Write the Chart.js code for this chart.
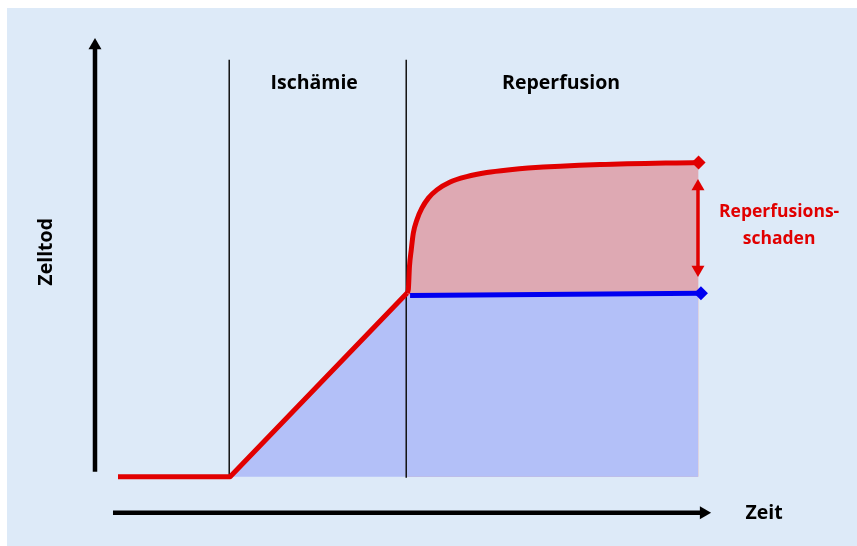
<!DOCTYPE html>
<html>
<head>
<meta charset="utf-8">
<script src="https://cdn.jsdelivr.net/npm/chart.js@4"></script>
<style>
  body { margin: 0; background: #fff; }
  #wrap { position: relative; width: 857px; height: 546px; background: #fff; }
  #panel { position: absolute; left: 7px; top: 8px; right: 0; bottom: 0; background: #ddeaf8; }
  #chart { position: absolute; left: 0; top: 0; }
</style>
</head>
<body>
<div id="wrap">
  <div id="panel"></div>
  <canvas id="chart" width="857" height="546"></canvas>
</div>
<script>
// Zeit in Minuten (Ischämie 0-60), Zelltod in % des Maximalwerts
var baselinePoints = [[-38, 0], [0, 0], [60, 58.2]];
var reperfusionCurve = [[60, 58.2], [60.4, 59.2], [60.8, 66.6], [61.4, 71.8], [62.1, 77.1], [63.3, 81.3],
                        [65, 85], [67.2, 88.2], [70.1, 90.8], [74.6, 93.3], [80.2, 95], [87, 96.3],
                        [94.9, 97.2], [101, 97.7], [125.4, 98.8], [158.8, 99.5]];
var protectedLine = [[61, 57.4], [159.6, 58.1]];
var blueArea = [[0, 0], [60, 58.2], [61, 57.4], [158.6, 58.1]];
var phaseBounds = [0, 60];
var phaseTop = 132;
var damageArrow = [[158.6, 65.6], [158.6, 91.9]];
var yAxisLine = [[-45.8, 1.6], [-45.8, 136.5]];
var xAxisLine = [[-39.7, -11.4], [160.5, -11.4]];

var RED = '#e10000';
var BLUE = '#0000f0';

function pts(arr) {
  return arr.map(function(p) { return { x: p[0], y: p[1] }; });
}

function lastOnly(arr, r) {
  return arr.map(function(p, i) { return i === arr.length - 1 ? r : 0; });
}

var datasets = [];

// Flächen
datasets.push({
  data: pts(reperfusionCurve), order: 10, borderWidth: 0, pointRadius: 0,
  cubicInterpolationMode: 'monotone', fill: 'origin', backgroundColor: '#dea9b3'
});
datasets.push({
  data: pts(blueArea), order: 9, borderWidth: 0, pointRadius: 0,
  tension: 0, fill: 'origin', backgroundColor: '#b3c0f8'
});

// Phasengrenzen
phaseBounds.forEach(function(t) {
  datasets.push({
    data: pts([[t - 0.3, -0.3], [t - 0.3, phaseTop]]), order: 8,
    borderColor: '#111', borderWidth: 1.5, pointRadius: 0, fill: false
  });
});

// Achsenpfeile
datasets.push({
  data: pts(yAxisLine), order: 7, borderColor: '#000', borderWidth: 4.5,
  pointRadius: lastOnly(yAxisLine, 7.5), pointStyle: 'triangle', pointRotation: 0,
  pointBackgroundColor: '#000', pointBorderWidth: 0, fill: false
});
datasets.push({
  data: pts(xAxisLine), order: 7, borderColor: '#000', borderWidth: 4.5,
  pointRadius: lastOnly(xAxisLine, 7.5), pointStyle: 'triangle', pointRotation: 90,
  pointBackgroundColor: '#000', pointBorderWidth: 0, fill: false
});

// Doppelpfeil Reperfusionsschaden
datasets.push({
  data: pts(damageArrow), order: 3, borderColor: RED, borderWidth: 3.5,
  pointRadius: 7.5, pointStyle: 'triangle', pointRotation: [180, 0],
  pointBackgroundColor: RED, pointBorderWidth: 0, fill: false
});

// Linien
datasets.push({
  data: pts(baselinePoints), order: 2, borderColor: RED, borderWidth: 5,
  tension: 0, pointRadius: 0, fill: false, borderJoinStyle: 'round'
});
datasets.push({
  data: pts(reperfusionCurve), order: 2, borderColor: RED, borderWidth: 5,
  cubicInterpolationMode: 'monotone', fill: false,
  pointRadius: lastOnly(reperfusionCurve, 7), pointStyle: 'rectRot',
  pointBackgroundColor: RED, pointBorderWidth: 0
});
datasets.push({
  data: pts(protectedLine), order: 1, borderColor: BLUE, borderWidth: 5,
  tension: 0, fill: false,
  pointRadius: lastOnly(protectedLine, 7), pointStyle: 'rectRot',
  pointBackgroundColor: BLUE, pointBorderWidth: 0
});

// Beschriftungen (Positionen in Datenkoordinaten)
var labels = [
  { text: 'Ischämie', x: 28.5, y: 124.4, color: '#000', size: 19.5 },
  { text: 'Reperfusion', x: 112.2, y: 124.4, color: '#000', size: 19.5 },
  { text: 'Reperfusions-', x: 186.1, y: 83.9, color: RED, size: 17.5 },
  { text: 'schaden', x: 186.1, y: 75.3, color: RED, size: 17.5 },
  { text: 'Zeit', x: 181, y: -11.7, color: '#000', size: 19.5 },
  { text: 'Zelltod', x: -62.4, y: 71.2, color: '#000', size: 19.5, rotate: true }
];

var labelPlugin = {
  id: 'labels',
  afterDraw: function(chart) {
    var ctx = chart.ctx;
    var xs = chart.scales.x, ys = chart.scales.y;
    labels.forEach(function(l) {
      ctx.save();
      ctx.translate(xs.getPixelForValue(l.x), ys.getPixelForValue(l.y));
      if (l.rotate) ctx.rotate(-Math.PI / 2);
      ctx.font = 'bold ' + l.size + 'px "Open Sans", sans-serif';
      ctx.fillStyle = l.color;
      ctx.textAlign = 'center';
      ctx.textBaseline = 'middle';
      ctx.fillText(l.text, 0, 0);
      ctx.restore();
    });
  }
};

new Chart(document.getElementById('chart'), {
  type: 'line',
  data: { datasets: datasets },
  options: {
    responsive: false,
    animation: false,
    devicePixelRatio: 1,
    layout: { padding: 0, autoPadding: false },
    plugins: { legend: { display: false }, tooltip: { enabled: false } },
    scales: {
      x: { type: 'linear', min: -78, max: 212.5, display: false },
      y: { type: 'linear', min: -21.9, max: 150.9, display: false }
    }
  },
  plugins: [labelPlugin]
});
</script>
</body>
</html>
